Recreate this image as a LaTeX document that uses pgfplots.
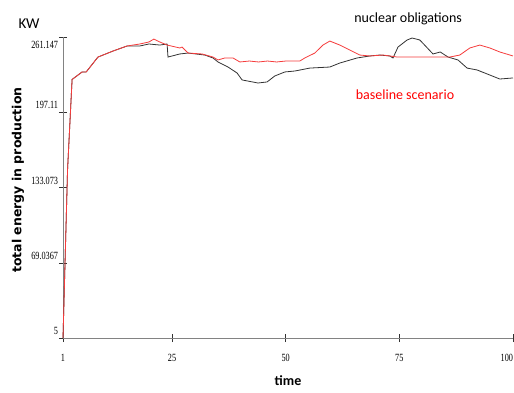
\documentclass[border=0pt]{standalone}
\usepackage{pgfplots}
\pgfplotsset{compat=1.18}
\usepackage{fontspec}
\setmainfont{Liberation Serif}
\newfontfamily\carlito{Carlito}
\newfontfamily\dejavu{DejaVu Sans}
\definecolor{redline}{RGB}{245,60,60}
\definecolor{blackline}{RGB}{50,50,50}
\definecolor{axgray}{RGB}{130,130,130}
\begin{document}
\begin{tikzpicture}
\begin{axis}[
  name=ax,
  scale only axis,
  width=450pt, height=301pt,
  xmin=1, xmax=100,
  ymin=5, ymax=261.147,
  axis x line*=bottom,
  axis y line*=left,
  axis line style={axgray, line width=0.6pt},
  xtick={1,25,50,75,100},
  xticklabels={1,25,50,75,{\makebox[0pt][r]{100}}},
  ytick={5,69.0367,133.073,197.11,261.147},
  yticklabels={5,69.0367,133.073,197.11,{\raisebox{-15pt}{261.147}}},
  tick align=center,
  major tick length=8pt,
  tick style={blackline, line width=0.5pt},
  /pgf/number format/assume math mode=true,
  xticklabel style={font=\fontsize{11}{12}\selectfont, xscale=0.75, yshift=-9pt},
  yticklabel style={font=\fontsize{11}{12}\selectfont, xscale=0.75, anchor=base east, inner sep=1pt, yshift=3.5pt},
  xlabel={\carlito\bfseries time},
  xlabel style={font=\fontsize{14}{16}\selectfont, at={(axis description cs:0.5,-0.1429)}, anchor=center},
  ylabel={\dejavu\bfseries total energy in production},
  ylabel style={font=\fontsize{12.5}{14}\selectfont, at={(axis description cs:-0.1,0.525)}, anchor=center},
  clip=false,
]
\addplot[blackline, line width=0.8pt] coordinates {
(1,5) (2,148) (3,225) (5.2,231.4) (6.1,231.4) (8.7,244.1) (12,249.2) (15.1,253.5)
(17.9,253.5) (19.9,255.2) (22.3,254.3) (23.9,255.2) (24.1,244.1) (26.7,246.7)
(28.5,247.5) (32.2,245.8) (34,243.3) (35.1,239.9) (37.3,235.6) (39.3,230.5)
(40.4,224.6) (43.9,222.0) (45.9,222.9) (47.6,228.0) (49.8,231.4) (52,232.2)
(55.3,234.7) (59.7,235.6) (61.9,239.0) (65.7,243.3) (68.5,245.0) (70.7,245.8)
(72.9,245.0) (73.6,243.3) (74.7,252.6) (76.7,258.6) (77.8,260.3) (79.5,258.6)
(82.4,246.7) (84,248.4) (85.7,244.1) (87.9,241.6) (89.9,234.7) (92.1,233.1)
(94.3,229.7) (97.1,225.4) (100,226.3)
};
\addplot[redline, line width=0.8pt] coordinates {
(1,5) (2,148) (3,225) (5.2,231.4) (6.1,231.4) (8.7,244.1) (12,249.2) (15.1,253.5)
(17.9,255.2) (19.9,256.9) (21,259.4) (22.3,256.9) (23.9,254.3) (26.7,251.8)
(27.2,252.6) (28.5,247.5) (31.6,246.7) (34,244.1) (35.1,241.6) (36.6,243.3)
(38.4,243.3) (39.9,239.9) (42,240.7) (44,239.9) (46,240.7) (48,239.9) (50,240.7)
(53.1,240.7) (54.2,243.3) (56.4,247.5) (58.2,254.3) (59.7,257.7) (61.9,254.3)
(64.1,250.1) (66.3,245.8) (68.5,245.0) (71.4,245.8) (72.9,245.0) (74.5,244.1)
(77.3,244.1) (81.7,244.1) (86.1,244.1) (88.3,245.8) (90.5,251.8) (92.7,254.3)
(94.9,251.8) (97.1,248.4) (100,245)
};
\node[font=\carlito\fontsize{15}{17}\selectfont, anchor=center] at ([xshift=-34pt,yshift=13pt]rel axis cs:0,1) {KW};
\node[font=\carlito\fontsize{14}{16}\selectfont, anchor=center] at ([yshift=18pt]rel axis cs:0.767,1) {nuclear obligations};
\node[font=\carlito\fontsize{14}{16}\selectfont, text=red, anchor=center] at (rel axis cs:0.76,0.807) {baseline scenario};
\end{axis}
\pgfresetboundingbox
\path[use as bounding box] ([xshift=-63pt,yshift=-54pt]ax.south west) rectangle ([xshift=1pt,yshift=37pt]ax.north east);
\end{tikzpicture}
\end{document}
